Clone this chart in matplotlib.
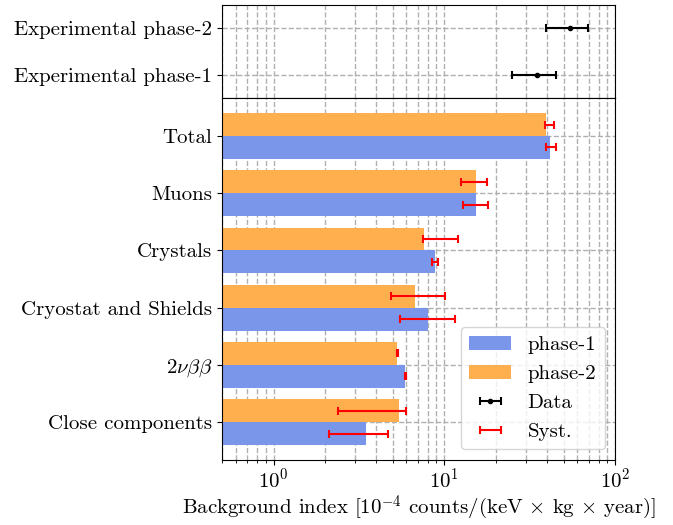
import matplotlib
matplotlib.use("Agg")
import matplotlib.pyplot as plt
import numpy as np

plt.rcParams['font.family'] = 'serif'
plt.rcParams['font.serif'] = ['cmr10', 'DejaVu Serif']
plt.rcParams['mathtext.fontset'] = 'cm'
plt.rcParams['axes.formatter.use_mathtext'] = True
plt.rcParams['axes.unicode_minus'] = False

# componenti (dal basso verso l'alto)
categories = ['Close components', r'$2\nu\beta\beta$', 'Cryostat and Shields',
              'Crystals', 'Muons', 'Total']
phase1 = [3.5, 5.9, 8.0, 8.8, 15.4, 41.8]
phase2 = [5.4, 5.3, 6.7, 7.6, 15.4, 39.5]
syst1_val = [3.4, 5.93, 8.5, 8.8, 15.4, 42.2]
syst1_err = [1.3, 0.05, 3.0, 0.36, 2.6, 3.0]
syst2_val = [4.2, 5.3, 7.5, 9.8, 15.2, 41.1]
syst2_err = [1.8, 0.05, 2.6, 2.3, 2.6, 2.5]

# dati sperimentali
exp_labels = ['Experimental phase-1', 'Experimental phase-2']
exp_val = [35, 54.6]
exp_err = [10, 15]

blue = '#7a96ea'
orange = '#ffaf4d'
fs = 15

fig, (ax0, ax1) = plt.subplots(2, 1, sharex=True, figsize=(6.73, 5.25), dpi=100,
                               gridspec_kw={'height_ratios': [93, 362], 'hspace': 0})
fig.subplots_adjust(left=0.330, right=0.914, top=0.990, bottom=0.124)

# pannello superiore
ye = np.arange(len(exp_labels))
data_eb = ax0.errorbar(exp_val, ye, xerr=exp_err, fmt='o', color='black', ms=3,
                       capsize=3, elinewidth=1.5, capthick=1.5, label='Data')
ax0.set_yticks(ye)
ax0.set_yticklabels(exp_labels, fontsize=fs)
ax0.set_ylim(-0.5, 1.5)
ax0.grid(True, which='both', linestyle='--', color='#b0b0b0', linewidth=1)
ax0.tick_params(axis='x', which='both', length=0, labelbottom=False)
ax0.set_axisbelow(True)

# pannello inferiore
y = np.arange(len(categories))
h = 0.4
b1 = ax1.barh(y - h / 2, phase1, height=h, color=blue, label='phase-1')
b2 = ax1.barh(y + h / 2, phase2, height=h, color=orange, label='phase-2')
ax1.errorbar(syst1_val, y - h / 2, xerr=syst1_err, fmt='none', ecolor='red',
             capsize=3, elinewidth=1.5, capthick=1.5)
syst_eb = ax1.errorbar(syst2_val, y + h / 2, xerr=syst2_err, fmt='none', ecolor='red',
                       capsize=3, elinewidth=1.5, capthick=1.5, label='Syst.')
ax1.set_yticks(y)
ax1.set_yticklabels(categories, fontsize=fs)
ax1.set_xscale('log')
ax1.set_xlim(0.5, 100)
ax1.set_ylim(-0.66, 5.66)
ax1.grid(True, which='both', linestyle='--', color='#b0b0b0', linewidth=1)
ax1.set_axisbelow(True)
ax1.tick_params(axis='x', labelsize=fs, pad=2)
ax1.set_xlabel(r'Background index [$10^{-4}$ counts/(keV $\times$ kg $\times$ year)]',
               fontsize=fs, labelpad=1)

# legenda
ax1.legend([b1, b2, data_eb, syst_eb], ['phase-1', 'phase-2', 'Data', 'Syst.'],
           loc='lower right', fontsize=fs)

fig.savefig('out.png', dpi=100)
